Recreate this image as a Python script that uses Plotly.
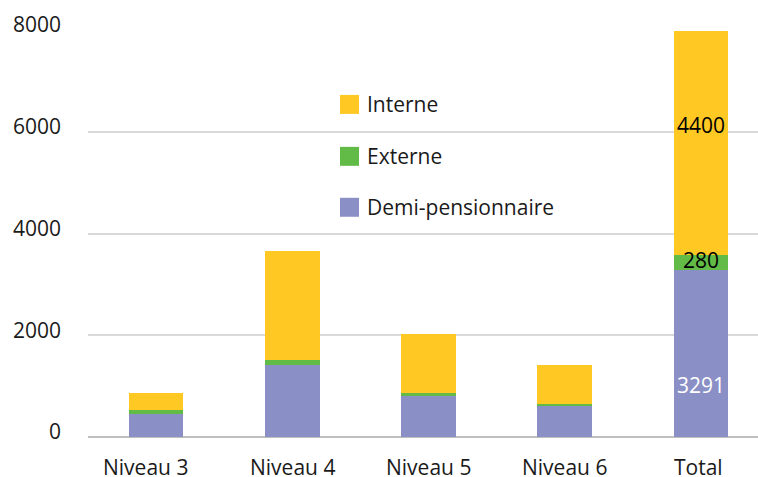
import plotly.graph_objects as go

categories = ["Niveau 3", "Niveau 4", "Niveau 5", "Niveau 6", "Total"]
demi = [460, 1420, 800, 611, 3291]
externe = [80, 100, 65, 35, 280]
interne = [330, 2140, 1160, 770, 4400]
series_names = ["Demi-pensionnaire", "Externe", "Interne"]
colors = ["#8A8FC6", "#62BB47", "#FFC823"]
y_ticks = [0, 2000, 4000, 6000, 8000]

FONT = "Open Sans"
FS = 21
fig = go.Figure()
for name, vals, col in zip(series_names, [demi, externe, interne], colors):
    fig.add_trace(go.Bar(x=categories, y=vals, name=name, marker=dict(color=col, line=dict(width=0)),
                         showlegend=False))

# value labels on the Total bar
t = len(categories) - 1
lab = [
    (demi[t] / 2, str(demi[t]), "white", -32),
    (demi[t] + externe[t] / 2, str(externe[t]), "black", 2),
    (demi[t] + externe[t] + interne[t] / 2, str(interne[t]), "black", 18),
]
for yv, txt, c, ys in lab:
    fig.add_annotation(x=categories[t], y=yv, text=txt, showarrow=False, yshift=ys,
                       font=dict(family=FONT, size=FS, color=c))

# category labels (first one sits slightly left, as in the reference)
xshifts = [-11, 0, 0, 0, -2]
for cat, xs in zip(categories, xshifts):
    fig.add_annotation(x=cat, xref="x", yref="paper", y=0, yanchor="middle", yshift=-30,
                       xshift=xs, text=cat, showarrow=False,
                       font=dict(family=FONT, size=FS, color="#1a1a1a"))

# manual legend (reversed order)
leg_y = [104, 156, 207]
for i, (name, col) in enumerate(zip(series_names[::-1], colors[::-1])):
    yc = leg_y[i]
    fig.add_shape(type="rect", xref="paper", yref="paper",
                  x0=(340 - 88) / 670, x1=(359 - 88) / 670,
                  y0=(437 - (yc + 9.5)) / 407.5, y1=(437 - (yc - 9.5)) / 407.5,
                  fillcolor=col, line=dict(width=0))
    fig.add_annotation(xref="paper", yref="paper", x=(365 - 88) / 670, y=(437 - yc) / 407.5,
                       text=name, showarrow=False, xanchor="left", yanchor="middle",
                       font=dict(family=FONT, size=FS, color="#1a1a1a"))

fig.update_layout(
    barmode="stack",
    bargap=0.6,
    width=758, height=477,
    margin=dict(l=88, r=0, t=29.5, b=40, autoexpand=False),
    paper_bgcolor="white", plot_bgcolor="white",
    font=dict(family=FONT, size=FS, color="#1a1a1a"),
    xaxis=dict(range=[-0.5, 4.42], showgrid=False, showline=False, zeroline=False,
               ticks="", showticklabels=False, automargin=False),
    yaxis=dict(range=[0, 8000], tickvals=y_ticks, ticktext=[str(v) for v in y_ticks],
               showgrid=True, gridcolor="#D9D9D9", gridwidth=1.5,
               zeroline=True, zerolinecolor="#BFBFBF", zerolinewidth=2, automargin=False,
               showline=False, ticks="", ticklabelstandoff=26, ticklabelshift=-5,
               tickfont=dict(family=FONT, size=FS)),
)

fig.write_html("out.html", config={"displayModeBar": False},
               post_script="document.body.style.margin='0';document.body.style.padding='0';")
